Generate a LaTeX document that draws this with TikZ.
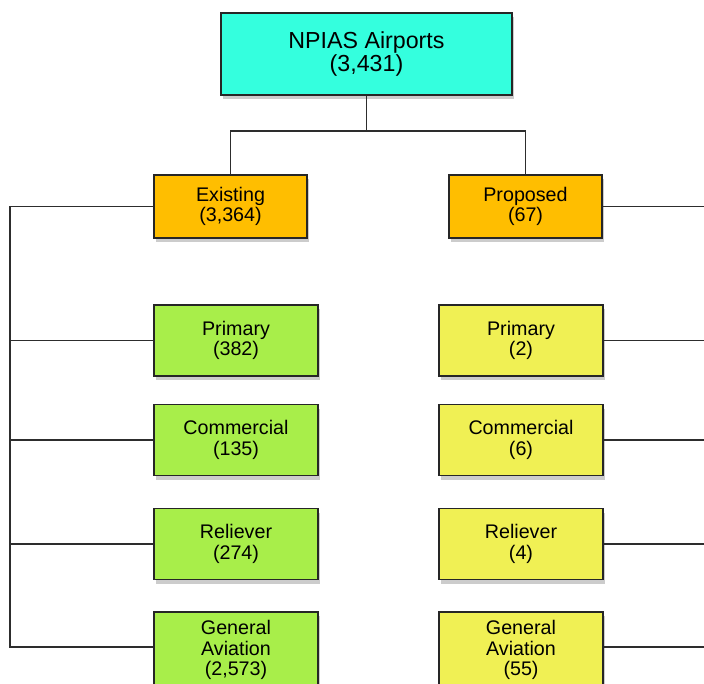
\documentclass[tikz,border=0pt]{standalone}
\usepackage{fontspec}
\setmainfont{Liberation Sans}
\usetikzlibrary{positioning,shadows}
\definecolor{npiascyan}{RGB}{52,255,222}
\definecolor{exorange}{RGB}{255,190,0}
\definecolor{exgreen}{RGB}{168,238,74}
\definecolor{pryellow}{RGB}{240,240,84}
\definecolor{linegray}{RGB}{45,45,45}
\tikzset{
  box/.style={draw=black!85, line width=1.1pt, align=center, inner sep=0pt, font=\fontsize{14}{14.5}\selectfont,
    drop shadow={shadow xshift=1.2pt, shadow yshift=-3pt, opacity=0.4}},
  smallbox/.style={box, minimum width=3.83cm, minimum height=1.58cm},
  typebox/.style={box, minimum width=4.1cm, minimum height=1.78cm},
  link/.style={draw=linegray, line width=0.9pt}
}

\begin{document}
\begin{tikzpicture}[x=0.025cm, y=-0.025cm]
      \useasboundingbox (0,0) rectangle (704,684);
      \clip (0,0) rectangle (704,684);
      % top of the tree
      \node[box, minimum width=7.28cm, minimum height=2.05cm, fill=npiascyan, font=\fontsize{16.5}{17}\selectfont] (n0) at (366.5,54) {NPIAS Airports\\(3,431)};
      \node[smallbox, fill=exorange] (ex) at (230.5,206.5) {Existing\\(3,364)};
      \node[smallbox, fill=exorange] (pr) at (525.5,206.5) {Proposed\\(67)};
      % existing airports
      \node[typebox, fill=exgreen] (ex1) at (236,340.5) {Primary\\(382)};
      \node[typebox, fill=exgreen] (ex2) at (236,440) {Commercial\\(135)};
      \node[typebox, fill=exgreen] (ex3) at (236,544) {Reliever\\(274)};
      \node[typebox, fill=exgreen, minimum height=1.9cm] (ex4) at (236,650) {General\\Aviation\\(2,573)};
      % proposed airports
      \node[typebox, fill=pryellow] (pr1) at (521,340.5) {Primary\\(2)};
      \node[typebox, fill=pryellow] (pr2) at (521,440) {Commercial\\(6)};
      \node[typebox, fill=pryellow] (pr3) at (521,544) {Reliever\\(4)};
      \node[typebox, fill=pryellow, minimum height=1.9cm] (pr4) at (521,650) {General\\Aviation\\(55)};
      \coordinate (split) at (366.5,131);
      \coordinate (ltop) at (10,206.5);
      \coordinate (lbot) at (10,647);
      \coordinate (redge) at (704,206.5);
      \draw[link] (n0.south) -- (split);
      \draw[link] (ex.north) |- (split) -| (pr.north);
      \draw[link] (ex.west) -- (ltop) -- (lbot) -- (lbot -| ex4.west);
      \draw[link] (ex1.west) -- (ex1.west -| ltop);
      \draw[link] (ex2.west) -- (ex2.west -| ltop);
      \draw[link] (ex3.west) -- (ex3.west -| ltop);
      \draw[link] (pr.east) -- (redge);
      \draw[link] (pr1.east) -- (pr1.east -| redge);
      \draw[link] (pr2.east) -- (pr2.east -| redge);
      \draw[link] (pr3.east) -- (pr3.east -| redge);
      \draw[link] (lbot -| pr4.east) -- (lbot -| redge);
    \end{tikzpicture}
\end{document}
